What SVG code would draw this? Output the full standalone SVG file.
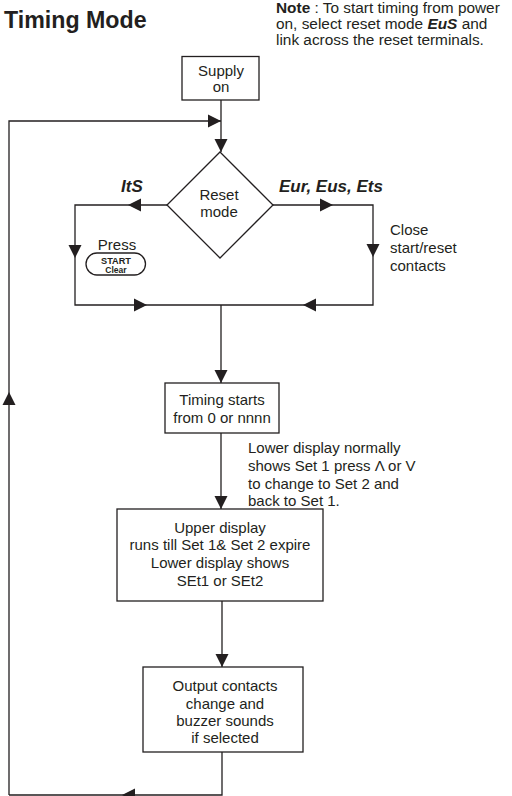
<svg xmlns="http://www.w3.org/2000/svg" width="512" height="796" viewBox="0 0 512 796">
<style>
text{font-family:"Liberation Sans",Arial,sans-serif;fill:#231f20;font-size:15px}
.c{text-anchor:middle}
.bi{font-weight:bold;font-style:italic;font-size:17px}
.box{fill:#fff;stroke:#231f20;stroke-width:1.3}
.ln{fill:none;stroke:#231f20;stroke-width:1.3}
.ah{fill:#231f20}
</style>
<defs>
<polygon id="ah" points="0,0 -13,-6.5 -13,6.5"/>
</defs>
<rect width="512" height="796" fill="#fff"/>
<text x="4" y="28.3" style="font-weight:bold;font-size:23.2px">Timing Mode</text>
<g id="note" style="font-size:15.4px">
<text x="276" y="13" style="font-size:15.4px"><tspan font-weight="bold">Note</tspan> : To start timing from power</text>
<text x="276" y="28.8" style="font-size:15.4px">on, select reset mode <tspan font-weight="bold" font-style="italic">EuS</tspan> and</text>
<text x="276" y="44.5" style="font-size:15.4px">link across the reset terminals.</text>
</g>
<g id="connectors">
<polyline class="ln" points="221,100 221,152"/>
<polyline class="ln" points="9,795 9,121 221,121"/>
<polyline class="ln" points="167,205 75,205 75,305 373,305 373,205 273,205"/>
<polyline class="ln" points="221,305 221,383"/>
<polyline class="ln" points="221,433 221,509"/>
<polyline class="ln" points="222,601 222,667"/>
<polyline class="ln" points="222,752 222,795 9,795"/>
<g class="ah">
<use href="#ah" transform="translate(221,121)"/>
<use href="#ah" transform="translate(221,152) rotate(90)"/>
<use href="#ah" transform="translate(9,392) rotate(-90)"/>
<use href="#ah" transform="translate(128,205) rotate(180)"/>
<use href="#ah" transform="translate(75,258) rotate(90)"/>
<use href="#ah" transform="translate(147,305)"/>
<use href="#ah" transform="translate(303,305) rotate(180)"/>
<use href="#ah" transform="translate(333,205)"/>
<use href="#ah" transform="translate(373,257) rotate(90)"/>
<use href="#ah" transform="translate(221,383) rotate(90)"/>
<use href="#ah" transform="translate(221,509) rotate(90)"/>
<use href="#ah" transform="translate(222,667) rotate(90)"/>
<use href="#ah" transform="translate(122,795) rotate(180)"/>
</g>
<text x="121" y="192" class="bi">ItS</text>
<text x="279" y="192" class="bi">Eur, Eus, Ets</text>
<text x="390" y="235">Close</text>
<text x="390" y="253">start/reset</text>
<text x="390" y="270.5">contacts</text>
<text x="248" y="453">Lower display normally</text>
<text x="248" y="471">shows Set 1 press Λ or V</text>
<text x="248" y="489">to change to Set 2 and</text>
<text x="248" y="506">back to Set 1.</text>
</g>
<g id="supply">
<rect class="box" x="182" y="56.5" width="77" height="43.5"/>
<text x="221" y="75.5" class="c">Supply</text>
<text x="221" y="92" class="c">on</text>
</g>
<g id="reset">
<polygon class="box" points="220,152 273,205 220,258 167,205"/>
<text x="219" y="200" class="c">Reset</text>
<text x="219" y="217" class="c">mode</text>
</g>
<g id="press">
<text x="117" y="250" class="c">Press</text>
<rect class="box" x="86" y="253" width="59.5" height="22" rx="11"/>
<text x="116" y="264" class="c" style="font-weight:bold;font-size:9.2px">START</text>
<text x="116" y="272.5" class="c" style="font-weight:bold;font-size:8.5px">Clear</text>
</g>
<g id="timing">
<rect class="box" x="165" y="383" width="114" height="50"/>
<text x="222" y="405" class="c">Timing starts</text>
<text x="222" y="423" class="c">from 0 or nnnn</text>
</g>
<g id="upper">
<rect class="box" x="117" y="509" width="206" height="92"/>
<text x="220" y="532.5" class="c">Upper display</text>
<text x="220" y="550" class="c">runs till Set 1&amp; Set 2 expire</text>
<text x="220" y="568" class="c">Lower display shows</text>
<text x="220" y="586" class="c">SEt1 or SEt2</text>
</g>
<g id="output">
<rect class="box" x="143" y="667" width="160" height="85"/>
<text x="225" y="691" class="c">Output contacts</text>
<text x="225" y="708.5" class="c">change and</text>
<text x="225" y="726" class="c">buzzer sounds</text>
<text x="225" y="743" class="c">if selected</text>
</g>
</svg>
